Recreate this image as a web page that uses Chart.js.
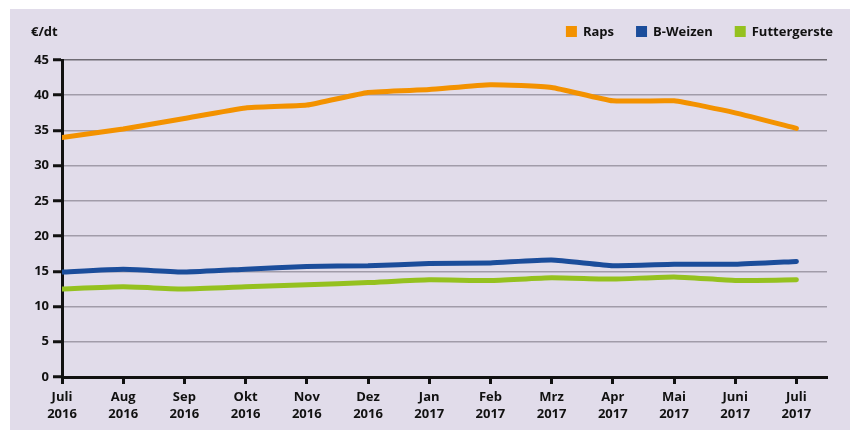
<!DOCTYPE html>
<html>
<head>
<meta charset="utf-8">
<script src="https://cdn.jsdelivr.net/npm/chart.js@4"></script>
<style>
  html, body { margin: 0; padding: 0; background: #ffffff; }
  #wrap { width: 850px; height: 432px; }
</style>
</head>
<body>
<div id="wrap"><canvas id="chart" width="850" height="432"></canvas></div>
<script>
const months = ['Juli', 'Aug', 'Sep', 'Okt', 'Nov', 'Dez', 'Jan', 'Feb', 'Mrz', 'Apr', 'Mai', 'Juni', 'Juli'];
const years = ['2016', '2016', '2016', '2016', '2016', '2016', '2017', '2017', '2017', '2017', '2017', '2017', '2017'];
const seriesNames = ['Raps', 'B-Weizen', 'Futtergerste'];
const raps = [34.0, 35.2, 36.7, 38.2, 38.6, 40.4, 40.8, 41.5, 41.1, 39.2, 39.2, 37.5, 35.3];
const weizen = [14.9, 15.3, 14.9, 15.3, 15.7, 15.8, 16.1, 16.2, 16.6, 15.8, 16.0, 16.0, 16.4];
const gerste = [12.5, 12.8, 12.5, 12.8, 13.1, 13.4, 13.8, 13.7, 14.1, 13.9, 14.2, 13.7, 13.8];
const yTicks = [0, 5, 10, 15, 20, 25, 30, 35, 40, 45];
const unitLabel = '€/dt';

const colors = ['#f39200', '#1b4d9b', '#95c11f'];
const FONT = '"Open Sans", "DejaVu Sans", sans-serif';

const toPoints = arr => arr.map((v, i) => ({ x: i, y: v }));

// background panel, unit label and legend
const decor = {
  id: 'decor',
  beforeDraw(chart) {
    const ctx = chart.ctx;
    ctx.save();
    ctx.fillStyle = '#e1dcea';
    ctx.fillRect(10, 9, 840, 421);
    ctx.restore();
  },
  afterDraw(chart) {
    const ctx = chart.ctx;
    ctx.save();
    ctx.fillStyle = '#111111';
    ctx.font = 'bold 13px ' + FONT;
    ctx.textBaseline = 'middle';
    ctx.textAlign = 'left';
    ctx.fillText(unitLabel, 31, 32);

    // legend, right aligned
    let x = 833;
    const items = chart.data.datasets.map(d => ({ label: d.label, color: d.borderColor }));
    for (let i = items.length - 1; i >= 0; i--) {
      const w = ctx.measureText(items[i].label).width;
      x -= w;
      ctx.fillStyle = '#111111';
      ctx.fillText(items[i].label, x, 32);
      x -= 17;
      ctx.fillStyle = items[i].color;
      ctx.fillRect(x, 26, 11, 11);
      x -= 22;
    }
    ctx.restore();
  }
};

new Chart(document.getElementById('chart'), {
  type: 'line',
  data: {
    datasets: [
      { label: seriesNames[0], data: toPoints(raps), borderColor: colors[0] },
      { label: seriesNames[1], data: toPoints(weizen), borderColor: colors[1] },
      { label: seriesNames[2], data: toPoints(gerste), borderColor: colors[2] }
    ].map(d => ({ ...d, borderWidth: 5, pointRadius: 0, tension: 0.15, fill: false, borderCapStyle: 'round', borderJoinStyle: 'round' }))
  },
  options: {
    responsive: false,
    animation: false,
    layout: { padding: { left: 10, top: 60, right: 23, bottom: 0 } },
    plugins: { legend: { display: false }, tooltip: { enabled: false } },
    scales: {
      x: {
        type: 'linear',
        min: 0,
        max: 12.5,
        afterBuildTicks(scale) {
          scale.ticks = months.map((m, i) => ({ value: i }));
        },
        afterFit(scale) { scale.height = 55; },
        ticks: {
          autoSkip: false,
          maxRotation: 0,
          padding: 5,
          color: '#111111',
          font: { family: FONT, size: 13, weight: 'bold', lineHeight: 1.3 },
          callback: (v) => [months[v], years[v]]
        },
        grid: { drawOnChartArea: false, drawTicks: true, tickLength: 7, tickWidth: 3, tickColor: '#111111' },
        border: { display: true, color: '#111111', width: 3 }
      },
      y: {
        min: 0,
        max: 45,
        afterBuildTicks(scale) {
          scale.ticks = yTicks.map(v => ({ value: v }));
        },
        afterFit(scale) { scale.width = 52; },
        ticks: {
          padding: 4,
          color: '#111111',
          font: { family: FONT, size: 13, weight: 'bold' }
        },
        grid: {
          color: ctx => (ctx.tick && ctx.tick.value === 45 ? '#6e6b73' : '#a19ca9'),
          lineWidth: 1.5,
          drawTicks: true,
          tickLength: 9,
          tickWidth: 3,
          tickColor: '#111111'
        },
        border: { display: true, color: '#111111', width: 3 }
      }
    }
  },
  plugins: [decor]
});
</script>
</body>
</html>
